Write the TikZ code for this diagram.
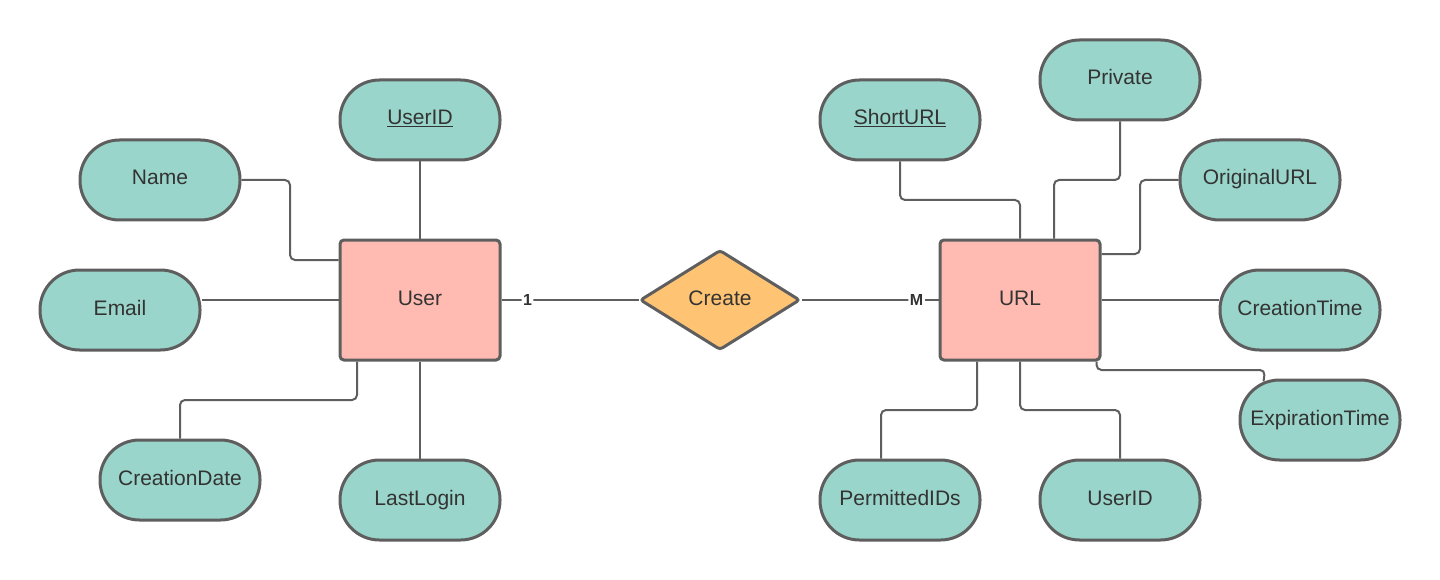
\documentclass[tikz,border=0pt]{standalone}
\usepackage{fontspec}
\setmainfont{Liberation Sans}
\usetikzlibrary{shapes.geometric}
\definecolor{attrfill}{HTML}{99D5CA}
\definecolor{entfill}{HTML}{FFBBB1}
\definecolor{relfill}{HTML}{FFC374}
\definecolor{bordc}{HTML}{5E5E5E}
\definecolor{txtc}{HTML}{333333}
\tikzset{
  lbl/.style={text=txtc, font=\fontsize{21}{25}\selectfont, text height=16pt, text depth=6pt},
  attr/.style={lbl, rectangle, rounded corners=39.5pt, minimum width=160pt, minimum height=80pt,
    inner sep=0pt, draw=bordc, line width=3pt, fill=attrfill},
  entity/.style={lbl, rectangle, rounded corners=4pt, minimum width=160pt, minimum height=120pt,
    inner sep=0pt, draw=bordc, line width=3pt, fill=entfill},
  relation/.style={lbl, diamond, rounded corners=3pt, minimum width=160pt, minimum height=100pt,
    inner sep=0pt, draw=bordc, line width=3pt, fill=relfill},
  conn/.style={draw=bordc, line width=2pt, rounded corners=5pt},
  card/.style={fill=white, inner sep=1.5pt, text=txtc, font=\bfseries\fontsize{16}{19}\selectfont}
}
\begin{document}
\begin{tikzpicture}[x=1pt,y=-1pt]
\useasboundingbox (0,0) rectangle (1440,580);
% entities and relation
\node[entity] (User) at (420,300) {User};
\node[entity] (URL) at (1020,300) {URL};
\node[relation] (Create) at (720,300) {Create};
% user attributes
\node[attr] (UserID) at (420,120) {\underline{UserID}};
\node[attr] (Name) at (160,180) {Name};
\node[attr] (Email) at (120,310) {Email};
\node[attr] (CreationDate) at (180,480) {CreationDate};
\node[attr] (LastLogin) at (420,500) {LastLogin};
% url attributes
\node[attr] (ShortURL) at (900,120) {\underline{ShortURL}};
\node[attr] (Private) at (1120,80) {Private};
\node[attr] (OriginalURL) at (1260,180) {OriginalURL};
\node[attr] (CreationTime) at (1300,310) {CreationTime};
\node[attr] (ExpirationTime) at (1320,420) {ExpirationTime};
\node[attr] (PermittedIDs) at (900,500) {PermittedIDs};
\node[attr] (UserID2) at (1120,500) {UserID};
% bend points
\coordinate (nbend) at (290,260);
\coordinate (obend) at (1140,254);
% connectors, user side
\draw[conn] (UserID.south) -- (User.north);
\draw[conn] (Name.east) -| (nbend) -- (nbend -| User.west);
\draw[conn] (Email.east |- User.west) -- (User.west);
\draw[conn] ([xshift=-63pt]User.south) |- (180,400) -- (CreationDate.north);
\draw[conn] (User.south) -- (LastLogin.north);
% relationship
\draw[conn] (User.east) -- (Create.west) node[card, pos=0.19] (one) {1};
\draw[conn] (Create.east) -- (URL.east -| URL.west) node[card, pos=0.84] (many) {M};
% connectors, url side
\draw[conn] (ShortURL.south) |- (1020,200) -- (URL.north);
\draw[conn] (Private.south) |- (1054,180) -- ([xshift=34pt]URL.north);
\draw[conn] (OriginalURL.west) -| (obend) -- (obend -| URL.east);
\draw[conn] (URL.east) -- (URL.east -| CreationTime.west);
\draw[conn] ([xshift=-5pt]URL.south east) |- (1265,370) -- ([xshift=25pt,yshift=-3pt]ExpirationTime.north west);
\draw[conn] ([xshift=-43pt]URL.south) |- (881,410) -- ([xshift=-19pt]PermittedIDs.north);
\draw[conn] (URL.south) |- (1120,410) -- (UserID2.north);
\end{tikzpicture}
\end{document}
